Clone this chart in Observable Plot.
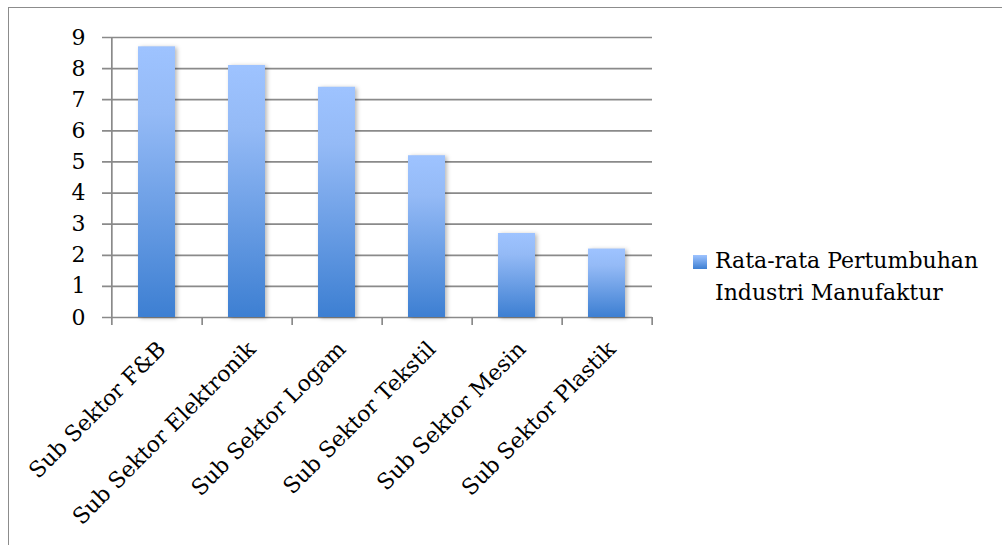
<!DOCTYPE html>
<html><head><meta charset="utf-8">
<script src="https://cdn.jsdelivr.net/npm/d3@7"></script>
<script src="https://cdn.jsdelivr.net/npm/@observablehq/plot@0.6"></script>
<style>
body{margin:0;background:#fff;overflow:hidden;}
#wrap{position:relative;width:1002px;height:545px;overflow:hidden;background:#fff;}
#frame{position:absolute;left:8px;top:7px;width:1100px;height:700px;border:1.5px solid #8c8c8c;box-sizing:border-box;pointer-events:none;}
#chart{position:absolute;left:0;top:0;}
#legend{position:absolute;left:715px;top:245px;font-family:"DejaVu Serif";font-size:22px;line-height:32px;color:#000;white-space:nowrap;}
#legend .sw{position:absolute;left:-22px;top:10px;width:14px;height:14px;background:linear-gradient(#9ec3ff,#3d7fd2);}
svg g[aria-label="bar"] rect{filter:drop-shadow(2px 1px 2px rgba(0,0,0,0.28));}
</style>
</head><body>
<div id="wrap">
<div id="chart"></div>
<div id="frame"></div>
<div id="legend"><span class="sw"></span>Rata-rata Pertumbuhan<br>Industri Manufaktur</div>
</div>
<script>
const categories = ["Sub Sektor F&B","Sub Sektor Elektronik","Sub Sektor Logam","Sub Sektor Tekstil","Sub Sektor Mesin","Sub Sektor Plastik"];
const values = [8.7, 8.1, 7.4, 5.2, 2.7, 2.2];
const yTicks = [0,1,2,3,4,5,6,7,8,9];
const seriesName = "Rata-rata Pertumbuhan Industri Manufaktur";

const data = categories.map((c,i)=>({cat:c, val:values[i]}));

const W = 1002, H = 545, ML = 110, MR = 350, MT = 37, MB = 228;
const step = (W - ML - MR) / categories.length;

const plot = Plot.plot({
  width: W, height: H,
  marginLeft: ML, marginRight: MR, marginTop: MT, marginBottom: MB,
  style: {fontFamily: "DejaVu Serif", fontSize: "22px", color: "#000", background: "transparent"},
  x: {domain: categories, paddingInner: 0.59, paddingOuter: 0.295, label: null},
  y: {domain: [0, 9], label: null},
  marks: [
    Plot.ruleY(yTicks, {stroke: "#8a8a8a", strokeWidth: 1.7, insetLeft: -8}),
    Plot.barY(data, {x: "cat", y: "val", fill: "url(#barGrad)"}),
    Plot.ruleX([categories[0]], {y1: 9, y2: 0, dx: -step/2, stroke: "#8a8a8a", strokeWidth: 1.7, insetBottom: -8}),
    Plot.ruleX(categories, {y1: 0, y2: 0, dx: step/2, stroke: "#8a8a8a", strokeWidth: 1.7, insetBottom: -8}),
    Plot.axisY({ticks: yTicks, tickSize: 0, tickPadding: 25, fontSize: 22, tickFormat: d => String(d)}),
    Plot.axisX({tickRotate: -45, tickSize: 0, tickPadding: 28, dx: 5, fontSize: 22, label: null})
  ]
});

const svg = d3.select(plot);
const defs = svg.insert("defs", ":first-child");
const g = defs.append("linearGradient").attr("id","barGrad").attr("x1",0).attr("y1",0).attr("x2",0).attr("y2",1);
g.append("stop").attr("offset","0%").attr("stop-color","#9ec3ff");
g.append("stop").attr("offset","25%").attr("stop-color","#94baf6");
g.append("stop").attr("offset","100%").attr("stop-color","#3d7fd2");

document.getElementById("chart").appendChild(plot);
</script>
</body></html>
